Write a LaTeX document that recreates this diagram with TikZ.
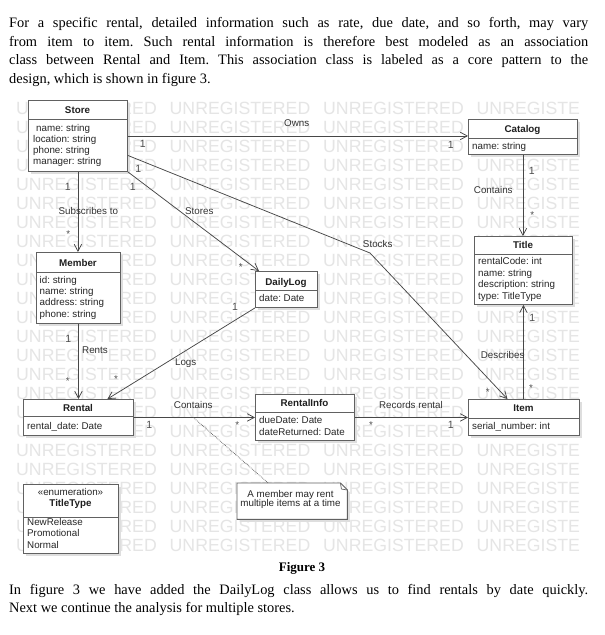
\documentclass[tikz,border=0pt]{standalone}
\usepackage{fontspec}
\setmainfont{Liberation Serif}
\newfontfamily\diagfont{Liberation Sans}
\usetikzlibrary{arrows.meta,calc,shadows}
\frenchspacing
\begin{document}
\begin{tikzpicture}[x=1pt,y=-1pt,
  box/.style={draw=black!62, line width=0.9pt, fill=white, inner sep=0pt,
    general shadow={fill=black!13, shadow xshift=2.5pt, shadow yshift=-2.5pt}},
  divline/.style={draw=black!62, line width=0.9pt},
  ttl/.style={font=\diagfont\fontsize{9.8}{11}\selectfont\bfseries, anchor=base, inner sep=0pt, text=black!88},
  att/.style={font=\diagfont\fontsize{9.8}{11}\selectfont, anchor=base west, inner sep=0pt, text=black!85},
  lab/.style={font=\diagfont\fontsize{9.8}{11}\selectfont, anchor=base, inner sep=0pt, text=black!80},
  one/.style={font=\diagfont\fontsize{10.5}{11}\selectfont, anchor=base, inner sep=0pt, text=black!70},
  star/.style={font=\diagfont\fontsize{9.8}{11}\selectfont, anchor=base, inner sep=0pt, text=black!70},
  conn/.style={draw=black!72, line width=0.75pt},
  arr/.style={conn, -{Straight Barb[length=7pt,width=7.5pt]}},
  wm/.style={font=\diagfont\fontsize{17.7}{18}\selectfont, anchor=base west, inner sep=0pt, text=black!10},
  para/.style={font=\fontsize{14.4}{17}\selectfont, anchor=base west, inner sep=0pt},
  notebox/.style={inner sep=0pt}
]
\useasboundingbox (0,0) rectangle (605,635);
\fill[white] (0,0) rectangle (605,635);

% text above
\node[para] (p1) at (9,27.7) {\makebox[579pt][s]{For a specific rental, detailed information such as rate, due date, and so forth, may vary}};
\node[para] (p2) at (9,46.2) {\makebox[579pt][s]{from item to item. Such rental information is therefore best modeled as an association}};
\node[para] (p3) at (9,64.7) {\makebox[579pt][s]{class between Rental and Item. This association class is labeled as a core pattern to the}};
\node[para] (p4) at (9,83.2) {design, which is shown in figure 3.};

% watermark
\foreach \r in {0,...,23} {
  \foreach \c in {0,...,2} {
    \node[wm] (wm-\r-\c) at (16+153.5*\c, 114.3+19*\r) {UNREGISTERED};
  }
  \node[wm] (wm-\r-3) at (476.5, 114.3+19*\r) {UNREGISTE};
}

% ---------- classes ----------
% Store
\node[box, anchor=north west, minimum width=99pt, minimum height=71pt] (store) at (28,100) {};
\draw[divline] (28,119) -- (127,119);
\node[ttl] (store-t) at (77.5,113.5) {Store};
\node[att] (store-a1) at (36,131.3) {name: string};
\node[att] (store-a2) at (33,142.4) {location: string};
\node[att] (store-a3) at (33,153.5) {phone: string};
\node[att] (store-a4) at (33,164.7) {manager: string};

% Catalog
\node[box, anchor=north west, minimum width=109pt, minimum height=35pt] (catalog) at (468,119) {};
\draw[divline] (468,138) -- (577,138);
\node[ttl] (catalog-t) at (522.5,132) {Catalog};
\node[att] (catalog-a1) at (472,149) {name: string};

% Title
\node[box, anchor=north west, minimum width=98pt, minimum height=68pt] (title) at (474,236) {};
\draw[divline] (474,254) -- (572,254);
\node[ttl] (title-t) at (523,248.5) {Title};
\node[att] (title-a1) at (478,264.7) {rentalCode: int};
\node[att] (title-a2) at (478,276.1) {name: string};
\node[att] (title-a3) at (478,287.5) {description: string};
\node[att] (title-a4) at (478,299) {type: TitleType};

% Member
\node[box, anchor=north west, minimum width=84pt, minimum height=71pt] (member) at (36,252) {};
\draw[divline] (36,272) -- (120,272);
\node[ttl] (member-t) at (78,266) {Member};
\node[att] (member-a1) at (39.5,283) {id: string};
\node[att] (member-a2) at (39.5,294.3) {name: string};
\node[att] (member-a3) at (39.5,305.6) {address: string};
\node[att] (member-a4) at (39.5,317) {phone: string};

% DailyLog
\node[box, anchor=north west, minimum width=62pt, minimum height=36pt] (dailylog) at (255,271) {};
\draw[divline] (255,290) -- (317,290);
\node[ttl] (dailylog-t) at (286,285.5) {DailyLog};
\node[att] (dailylog-a1) at (259,301) {date: Date};

% Rental
\node[box, anchor=north west, minimum width=110pt, minimum height=36pt] (rental) at (23,399) {};
\draw[divline] (23,416) -- (133,416);
\node[ttl] (rental-t) at (78,411.5) {Rental};
\node[att] (rental-a1) at (27,429) {rental\_date: Date};

% RentalInfo
\node[box, anchor=north west, minimum width=99pt, minimum height=46pt] (rentalinfo) at (255,394) {};
\draw[divline] (255,412) -- (354,412);
\node[ttl] (rentalinfo-t) at (304.5,406.5) {RentalInfo};
\node[att] (rentalinfo-a1) at (259,423) {dueDate: Date};
\node[att] (rentalinfo-a2) at (259,435) {dateReturned: Date};

% Item
\node[box, anchor=north west, minimum width=111pt, minimum height=36pt] (item) at (468,399) {};
\draw[divline] (468,418) -- (579,418);
\node[ttl] (item-t) at (523.5,411.5) {Item};
\node[att] (item-a1) at (472,429) {serial\_number: int};

% TitleType
\node[box, anchor=north west, minimum width=95pt, minimum height=69pt] (titletype) at (23,484) {};
\draw[divline] (23,517) -- (118,517);
\node[lab, text=black!85] (titletype-s) at (70.5,495) {«enumeration»};
\node[ttl] (titletype-t) at (70.5,506.5) {TitleType};
\node[att] (titletype-a1) at (27,525) {NewRelease};
\node[att] (titletype-a2) at (27,536.5) {Promotional};
\node[att] (titletype-a3) at (27,548) {Normal};

% Note
\node[notebox, anchor=north west, minimum width=110pt, minimum height=36pt] (note) at (237,483) {};
\fill[black!13] ($(note.north west)+(2.5,2.5)$) -- ($(note.north east)+(-4.5,2.5)$) -- ($(note.north east)+(2.5,9.5)$) -- ($(note.south east)+(2.5,2.5)$) -- ($(note.south west)+(2.5,2.5)$) -- cycle;
\draw[draw=black!62, line width=0.9pt, fill=white] (note.north west) -- ($(note.north east)+(-7,0)$) -- ($(note.north east)+(0,7)$) -- (note.south east) -- (note.south west) -- cycle;
\draw[draw=black!62, line width=0.7pt] ($(note.north east)+(-7,0)$) -- ($(note.north east)+(-6,6)$) -- ($(note.north east)+(0,7)$);
\node[lab, font=\diagfont\fontsize{9.8}{10}\selectfont, text=black!85] (note-l1) at (290.5,497) {A member may rent};
\node[lab, font=\diagfont\fontsize{9.8}{10}\selectfont, text=black!85] (note-l2) at (290.5,506.5) {multiple items at a time};

% ---------- connectors ----------
% Owns
\draw[arr] (store.east) -- (store.east -| catalog.west);
\node[lab] (l-owns) at (296.7,126.8) {Owns};
\node[one] (m-owns1) at (142.7,147.9) {1};
\node[one] (m-owns2) at (450.7,148.6) {1};

% Catalog contains Title
\draw[arr] (catalog.south) -- (catalog.south |- title.north);
\node[lab] (l-cont1) at (493.3,193.5) {Contains};
\node[one] (m-cont1a) at (531.7,174.6) {1};
\node[star] (m-cont1b) at (532.3,218.8) {*};

% Describes
\draw[arr] (item.north -| title.south) -- (title.south);
\node[lab] (l-desc) at (502.7,358.5) {Describes};
\node[one] (m-desc1) at (532.3,321.9) {1};
\node[star] (m-desc2) at (531,391.2) {*};

% Stocks
\coordinate (stocksbend) at (370,253);
\draw[arr] ([yshift=-19.5pt]store.east) -- (stocksbend) -- ([xshift=-16.5pt]item.north);
\node[lab] (l-stocks) at (377.7,247.5) {Stocks};
\node[one] (m-stocks1) at (138.3,172.6) {1};
\node[star] (m-stocks2) at (487.7,395.5) {*};

% Stores
\draw[arr] (store.south east) -- ([xshift=4pt]dailylog.north west);
\node[lab] (l-stores) at (199.3,214.5) {Stores};
\node[one] (m-stores1) at (132.7,190.3) {1};
\node[star] (m-stores2) at (240.7,270.5) {*};

% Logs
\draw[arr] (dailylog.south west) -- ([xshift=29pt]rental.north);
\node[lab] (l-logs) at (185.7,365) {Logs};
\node[one] (m-logs1) at (235,310.3) {1};
\node[star] (m-logs2) at (116,382.8) {*};

% Subscribes to
\draw[arr] (store.south) -- (store.south |- member.north);
\node[lab] (l-subs) at (88.3,214.5) {Subscribes to};
\node[one] (m-subs1) at (67.7,190.3) {1};
\node[star] (m-subs2) at (68.3,237.2) {*};

% Rents
\draw[arr] (member.south) -- (member.south |- rental.north);
\node[lab] (l-rents) at (95,353.5) {Rents};
\node[one] (m-rents1) at (68.3,342.6) {1};
\node[star] (m-rents2) at (67.7,384.8) {*};

% Contains (Rental -> RentalInfo)
\draw[arr] (rental.east) -- (rentalinfo.west);
\node[lab] (l-cont2) at (193.3,408.5) {Contains};
\node[one] (m-cont2a) at (149.3,428.6) {1};
\node[star] (m-cont2b) at (237.3,428.8) {*};

% Records rental
\draw[arr] (rentalinfo.east) -- (item.west);
\node[lab] (l-rec) at (411,408.5) {Records rental};
\node[star] (m-rec1) at (371,428.8) {*};
\node[one] (m-rec2) at (450.7,428.6) {1};

% note anchor line
\coordinate (notepoint) at ($(rental.east)!0.49!(rentalinfo.west)$);
\draw[draw=black!65, line width=0.7pt, densely dotted] (notepoint) -- ([xshift=-24pt]note.north);

% ---------- text below ----------
\node[font=\fontsize{13}{15}\selectfont\bfseries, anchor=base, inner sep=0pt] (caption) at (302,571) {Figure 3};
\node[para] (p5) at (9,594.2) {\makebox[579pt][s]{In figure 3 we have added the DailyLog class allows us to find rentals by date quickly.}};
\node[para] (p6) at (9,612.2) {Next we continue the analysis for multiple stores.};
\end{tikzpicture}
\end{document}
